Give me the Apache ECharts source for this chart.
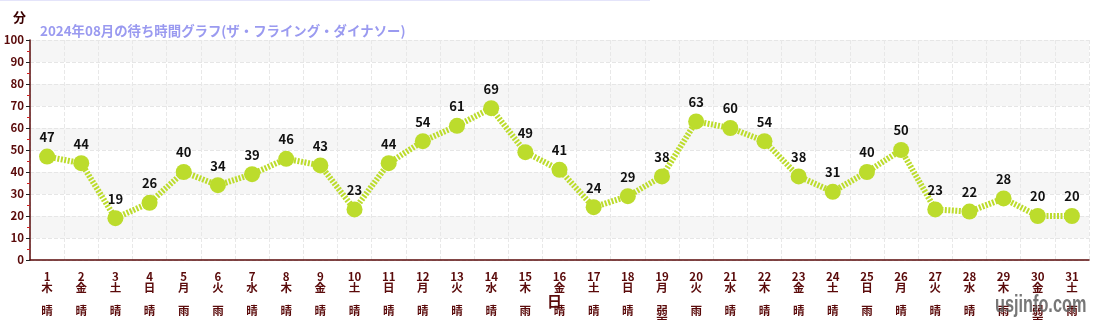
<!DOCTYPE html>
<html><head><meta charset="utf-8">
<script src="https://cdn.jsdelivr.net/npm/echarts@6/dist/echarts.min.js"></script>
<style>html,body{margin:0;padding:0;background:#fff}#c{width:1100px;height:320px}</style>
</head><body><div id="c"></div>
<script>
const days = ['1','2','3','4','5','6','7','8','9','10','11','12','13','14','15','16','17','18','19','20','21','22','23','24','25','26','27','28','29','30','31'];
const weekdays = ['木','金','土','日','月','火','水','木','金','土','日','月','火','水','木','金','土','日','月','火','水','木','金','土','日','月','火','水','木','金','土'];
const weather = ['晴','晴','晴','晴','雨','雨','晴','晴','晴','晴','晴','晴','晴','晴','雨','晴','晴','晴','弱\n雨','雨','晴','晴','晴','晴','雨','晴','晴','晴','雨','弱\n雨','雨'];
const waitMinutes = [47,44,19,26,40,34,39,46,43,23,44,54,61,69,49,41,24,29,38,63,60,54,38,31,40,50,23,22,28,20,20];
const yTicks = [0,10,20,30,40,50,60,70,80,90,100];

const cats = days.map((d,i)=>d+'\n'+weekdays[i]+'\n\n'+weather[i]);
const chart = echarts.init(document.getElementById('c'));
const axisColor = '#5a0a0a';
chart.setOption({
  animation:false,
  textStyle:{fontFamily:'"Noto Sans CJK JP", "Noto Sans", sans-serif'},
  title:{text:'2024年08月の待ち時間グラフ(ザ・フライング・ダイナソー)',left:35,top:19,
    textStyle:{color:'#9a9af0',fontSize:13.4,fontWeight:'bold'}},
  graphic:[
    {type:'rect',shape:{x:0,y:0,width:650,height:1},style:{fill:'#e4e4fa'}},
    {type:'text',x:995,y:317,scaleX:0.74,scaleY:1.08,z:100,
      style:{text:'usjinfo.com',fill:'rgba(95,95,95,0.85)',fontSize:22,fontWeight:'bold',fontFamily:'Liberation Sans',verticalAlign:'bottom'}}
  ],
  grid:{left:30,right:11,top:40,bottom:60,outerBoundsMode:'none',containLabel:false},
  xAxis:{type:'category',data:cats,boundaryGap:true,
    name:'日',nameLocation:'middle',nameGap:34,nameMoveOverlap:false,
    nameTextStyle:{color:axisColor,fontSize:15,fontWeight:'bold',padding:[0,10,0,0]},
    axisLine:{lineStyle:{color:axisColor,width:1.5}},
    axisTick:{alignWithLabel:true,length:4,lineStyle:{color:'#888'}},
    axisLabel:{interval:0,color:axisColor,fontSize:11.5,fontWeight:'bold',lineHeight:11.3,margin:11},
    splitLine:{show:true,interval:0,lineStyle:{color:'#e8e8e8',type:'dashed'}}
  },
  yAxis:{type:'value',min:0,max:100,interval:10,
    name:'分',nameLocation:'end',nameGap:16,
    nameTextStyle:{color:'#3a0000',fontSize:13,fontWeight:'bold',align:'right',padding:[0,4,0,0]},
    axisLine:{show:true,lineStyle:{color:axisColor,width:1.5}},
    axisTick:{show:true,length:4,lineStyle:{color:'#222'}},
    minorTick:{show:true,splitNumber:2,length:3,lineStyle:{color:'#d02020'}},
    axisLabel:{color:axisColor,fontSize:11.5,fontWeight:'bold',margin:6,
      formatter:v=>yTicks.includes(v)?String(v):''},
    splitLine:{show:true,lineStyle:{color:'#e6e6e6',type:'dashed'}},
    splitArea:{show:true,areaStyle:{color:['#ffffff','#f6f6f6']}}
  },
  series:[{type:'line',data:waitMinutes,symbol:'circle',symbolSize:16,
    itemStyle:{color:'#bcdc2c'},
    lineStyle:{color:'#bcdc2c',width:6,type:[2,1.5]},
    label:{show:true,position:'top',distance:5,color:'#111',fontSize:13,fontWeight:'bold'}
  }]
});
</script></body></html>
